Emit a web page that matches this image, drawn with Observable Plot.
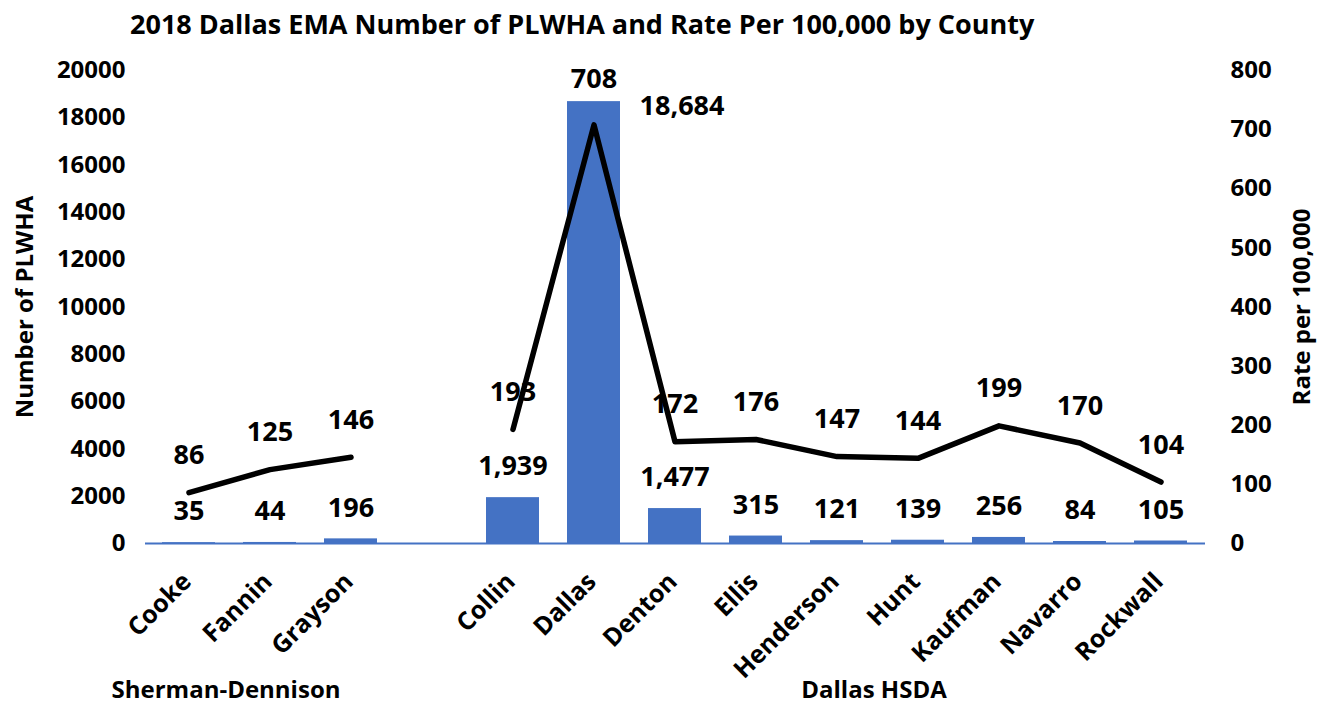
<!DOCTYPE html>
<html><head><meta charset="utf-8">
<script src="https://cdn.jsdelivr.net/npm/d3@7"></script>
<script src="https://cdn.jsdelivr.net/npm/@observablehq/plot@0.6"></script>
<style>
body{margin:0;background:#fff;font-family:"Open Sans", sans-serif;}
#title{height:50px;line-height:48px;font-weight:bold;font-size:27px;padding-left:130px;white-space:nowrap;color:#000}
#chart svg{display:block}
</style></head><body>
<div id="title">2018 Dallas EMA Number of PLWHA and Rate Per 100,000 by County</div>
<div id="chart"></div>
<script>
const counties = ["Cooke","Fannin","Grayson"," ","Collin","Dallas","Denton","Ellis","Henderson","Hunt","Kaufman","Navarro","Rockwall"];
const plwha = [35,44,196,null,1939,18684,1477,315,121,139,256,84,105];
const rates = [86,125,146,null,193,708,172,176,147,144,199,170,104];
const groupLabels = ["Sherman-Dennison","Dallas HSDA"];
const groupAnchors = ["Fannin","Hunt"];
const leftTicks = d3.range(0, 20001, 2000);
const rightTicks = d3.range(0, 801, 100);
const leftTitle = "Number of PLWHA";
const rightTitle = "Rate per 100,000";

const k = 20000 / 800;
const rows = counties.map((c, i) => ({county: c, plwha: plwha[i], rate: rates[i]}));
const bars = rows.filter(d => d.plwha != null);
const maxBar = d3.max(bars, d => d.plwha);
const maxRate = d3.max(rows, d => d.rate);
const fmt = d3.format(",");
const F = "'Open Sans', sans-serif";

const chart = Plot.plot({
  width: 1320, height: 657,
  marginTop: 20, marginBottom: 164, marginLeft: 145, marginRight: 115,
  style: {fontFamily: F, fontWeight: "bold", fontSize: "24px", color: "#000", background: "#fff"},
  x: {domain: counties, paddingInner: 0.34, paddingOuter: 0.17, axis: null},
  y: {domain: [0, 20000], axis: null},
  marks: [
    Plot.barY(bars, {x: "county", y: "plwha", fill: "#4472C4"}),
    Plot.ruleY([0], {stroke: "#4472C4", strokeWidth: 2}),
    Plot.line(rows, {x: "county", y: d => d.rate == null ? NaN : d.rate * k, stroke: "#000", strokeWidth: 5.5, strokeLinejoin: "round", strokeLinecap: "round"}),
    Plot.axisY({anchor: "left", ticks: leftTicks, tickFormat: d => String(d), tickSize: 0, tickPadding: 20, label: null, fontSize: 24}),
    Plot.axisY({anchor: "right", ticks: rightTicks.map(v => v * k), tickFormat: v => String(v / k), tickSize: 0, tickPadding: 25, label: null, fontSize: 24}),
    Plot.text([leftTitle], {frameAnchor: "left", textAnchor: "middle", rotate: -90, dx: -120, fontSize: 24, fontWeight: "bold"}),
    Plot.text([rightTitle], {frameAnchor: "right", textAnchor: "middle", rotate: -90, dx: 97, fontSize: 24, fontWeight: "bold"}),
    Plot.text(counties.filter(c => c.trim() !== ""), {x: d => d, y: () => 0, text: d => d, rotate: -45, textAnchor: "end", dx: -2, dy: 34, fontSize: 25, fontWeight: "bold"}),
    Plot.text(bars.filter(d => d.plwha !== maxBar), {x: "county", y: "plwha", text: d => fmt(d.plwha), dy: -31, fontSize: 27, fontWeight: "bold"}),
    Plot.text(bars.filter(d => d.plwha === maxBar), {x: "county", y: "plwha", text: d => fmt(d.plwha), dx: 88, dy: 5, fontSize: 27, fontWeight: "bold"}),
    Plot.text(rows.filter(d => d.rate != null && d.rate !== maxRate), {x: "county", y: d => d.rate * k, text: d => String(d.rate), dy: -37, fontSize: 27, fontWeight: "bold"}),
    Plot.text(rows.filter(d => d.rate === maxRate), {x: "county", y: d => d.rate * k, text: d => String(d.rate), dy: -46, fontSize: 27, fontWeight: "bold"}),
    Plot.text(groupLabels, {x: (d, i) => groupAnchors[i], y: () => 0, text: d => d, dx: -44, dy: 147, fontSize: 24, fontWeight: "bold"})
  ]
});
document.getElementById("chart").appendChild(chart);
</script>
</body></html>
